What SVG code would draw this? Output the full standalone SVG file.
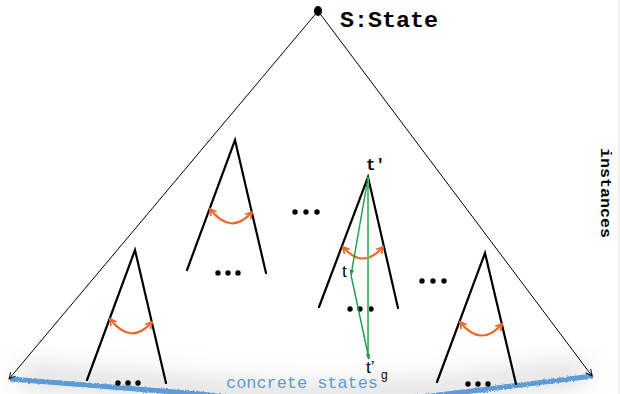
<svg xmlns="http://www.w3.org/2000/svg" width="620" height="394" viewBox="0 0 620 394">
  <defs>
    <style>
      .leg { stroke: #000; stroke-width: 2.2; fill: none; stroke-linecap: round; }
      .swap { stroke: #f0672a; stroke-width: 2.2; fill: none; marker-start: url(#oarrS); marker-end: url(#oarr); }
      .dot { fill: #000; }
      .big { stroke: #000; stroke-width: 1; fill: none; }
      .gpath { stroke: #1f9a4a; stroke-width: 1.4; fill: none; marker-end: url(#garr); }
      .mono { font-family: "Liberation Mono", "DejaVu Sans Mono", monospace; }
      .sans { font-family: "Liberation Sans", Arial, sans-serif; }
    </style>
    <marker id="oarr" viewBox="0 0 10 10" refX="8" refY="5" markerWidth="4" markerHeight="4" orient="auto" markerUnits="strokeWidth">
      <path d="M1,1 L8,5 L1,9" fill="none" stroke="#f0672a" stroke-width="2"/>
    </marker>
    <marker id="oarrS" viewBox="0 0 10 10" refX="8" refY="5" markerWidth="4" markerHeight="4" orient="auto-start-reverse" markerUnits="strokeWidth">
      <path d="M1,1 L8,5 L1,9" fill="none" stroke="#f0672a" stroke-width="2"/>
    </marker>
    <marker id="karr" viewBox="0 0 10 10" refX="9" refY="5" markerWidth="8" markerHeight="8" orient="auto" markerUnits="strokeWidth">
      <path d="M1,1 L9,5 L1,9" fill="none" stroke="#000" stroke-width="1.2"/>
    </marker>
    <marker id="garr" viewBox="0 0 10 10" refX="9" refY="5" markerWidth="4" markerHeight="4" orient="auto" markerUnits="strokeWidth">
      <path d="M0,1 L10,5 L0,9 Z" fill="#1f9a4a"/>
    </marker>
    <filter id="blur" x="-20%" y="-100%" width="140%" height="300%">
      <feGaussianBlur stdDeviation="12"/>
    </filter>
    <filter id="rough">
      <feTurbulence type="fractalNoise" baseFrequency="0.6" numOctaves="2" seed="3"/>
      <feDisplacementMap in="SourceGraphic" scale="3"/>
    </filter>
  </defs>

  <rect x="0" y="0" width="620" height="394" fill="#fff"/>
  <line x1="619" y1="0" x2="619" y2="394" stroke="#e2e2e2" stroke-width="1"/>

  <!-- bottom shadow -->
  <path d="M20,376 L200,390 Q320,404 447,390 L585,372" stroke="#c8c8c8" stroke-width="26" fill="none" filter="url(#blur)" opacity="0.55"/>

  <g id="concrete-states">
    <path d="M10,379 L200,394 Q320,410 447,394 L593,376" stroke="#5b9bd5" stroke-width="5" fill="none" filter="url(#rough)"/>
    <text x="226" y="388" class="mono" font-size="17" fill="#5b9bd5" textLength="152" lengthAdjust="spacingAndGlyphs">concrete states</text>
  </g>

  <g id="state-space">
    <path class="big" d="M318,11 L9,379" marker-end="url(#karr)"/>
    <path class="big" d="M318,11 L592,376" marker-end="url(#karr)"/>
    <ellipse cx="318" cy="11" rx="4" ry="5" fill="#000"/>
    <text x="340" y="27" class="mono" font-size="22" font-weight="bold" fill="#000" textLength="98" lengthAdjust="spacingAndGlyphs">S:State</text>
  </g>

  <g id="instances-label">
    <text transform="translate(601,148) rotate(90)" class="mono" font-size="14" font-weight="bold" fill="#000" textLength="90" lengthAdjust="spacingAndGlyphs">instances</text>
  </g>

  <g id="tree-1">
    <path class="leg" d="M87,380 L135,250 L166,383"/>
    <path class="swap" d="M110,319 Q131,346 152,322"/>
    <circle class="dot" cx="118" cy="383" r="2.7"/>
    <circle class="dot" cx="128" cy="383" r="2.7"/>
    <circle class="dot" cx="138" cy="383" r="2.7"/>
  </g>

  <g id="tree-2">
    <path class="leg" d="M187,270 L235,140 L266,273"/>
    <path class="swap" d="M210,209 Q231,236 252,212"/>
    <circle class="dot" cx="218" cy="273" r="2.7"/>
    <circle class="dot" cx="228" cy="273" r="2.7"/>
    <circle class="dot" cx="238" cy="273" r="2.7"/>
  </g>

  <g id="dots-mid">
    <circle class="dot" cx="295" cy="212" r="2.7"/>
    <circle class="dot" cx="306" cy="212" r="2.7"/>
    <circle class="dot" cx="317" cy="212" r="2.7"/>
  </g>

  <g id="tree-3">
    <path class="leg" d="M319,307 L368,177 L398,308"/>
    <path class="swap" d="M343,247 Q363,270 383,247"/>
    <circle class="dot" cx="350" cy="309" r="2.7"/>
    <circle class="dot" cx="360" cy="309" r="2.7"/>
    <circle class="dot" cx="371" cy="309" r="2.7"/>
    <text x="366" y="170" class="mono" font-size="16" font-weight="bold" fill="#000">t′</text>
  </g>

  <g id="dots-right">
    <circle class="dot" cx="422" cy="281" r="2.7"/>
    <circle class="dot" cx="433" cy="281" r="2.7"/>
    <circle class="dot" cx="444" cy="281" r="2.7"/>
  </g>

  <g id="tree-4">
    <path class="leg" d="M437,382 L485,253 L516,384"/>
    <path class="swap" d="M460,322 Q481,348 502,324"/>
    <circle class="dot" cx="468" cy="384" r="2.7"/>
    <circle class="dot" cx="478" cy="384" r="2.7"/>
    <circle class="dot" cx="488" cy="384" r="2.7"/>
  </g>

  <g id="connectors">
    <line x1="368" y1="177" x2="368" y2="358" stroke="#5cbf7a" stroke-width="2"/>
    <path class="gpath" d="M368,178 L351,275"/>
    <path class="gpath" d="M351,275 L369,359"/>
  </g>

  <g id="labels">
    <text x="342" y="277" class="sans" font-size="17" fill="#000">t</text>
    <text x="366" y="373" class="sans" font-size="17" fill="#000">t’</text>
    <text x="381" y="379" class="sans" font-size="12" fill="#000">g</text>
  </g>
</svg>
